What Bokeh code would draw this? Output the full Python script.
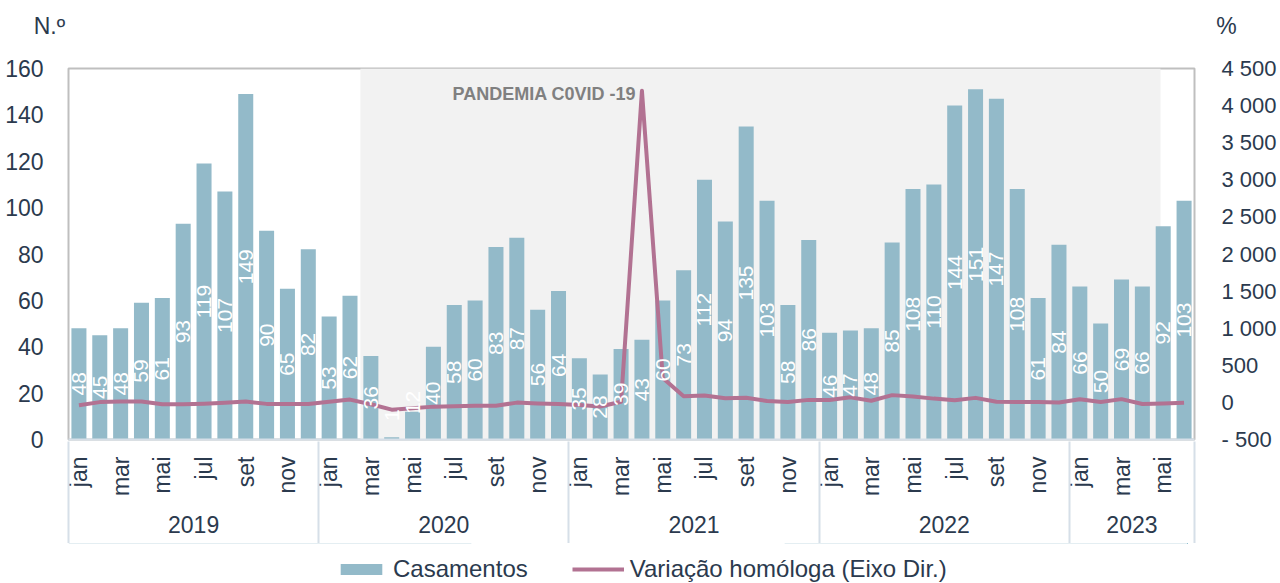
import math
from bokeh.plotting import figure
from bokeh.layouts import column
from bokeh.models import (Range1d, LinearAxis, FixedTicker, Legend, LegendItem,
                          Label, BoxAnnotation, ColumnDataSource)
from bokeh.embed import file_html
from bokeh.resources import INLINE
from bokeh.core.properties import value

# ---------------- data ----------------
years = ["2019", "2020", "2021", "2022", "2023"]
months = ["jan", "fev", "mar", "abr", "mai", "jun", "jul", "ago", "set", "out", "nov", "dez"]

casamentos_2019 = [48, 45, 48, 59, 61, 93, 119, 107, 149, 90, 65, 82]
casamentos_2020 = [53, 62, 36, 1, 12, 40, 58, 60, 83, 87, 56, 64]
casamentos_2021 = [35, 28, 39, 43, 60, 73, 112, 94, 135, 103, 58, 86]
casamentos_2022 = [46, 47, 48, 85, 108, 110, 144, 151, 147, 108, 61, 84]
casamentos_2023 = [66, 50, 69, 66, 92, 103]

variacao_2019 = [-38, 4, 13, 12, -25, -26, -18, -5, 12, -20, -21, -22]
variacao_2020 = [10, 38, -25, -98, -80, -57, -51, -44, -44, -3, -14, -22]
variacao_2021 = [-34, -55, 8, 4200, 330, 83, 93, 57, 63, 18, 4, 34]
variacao_2022 = [31, 68, 23, 98, 80, 51, 29, 61, 9, 5, 5, -2]
variacao_2023 = [43, 6, 44, -22, -15, -6]

left_ticks = [0, 20, 40, 60, 80, 100, 120, 140, 160]
right_ticks = [-500, 0, 500, 1000, 1500, 2000, 2500, 3000, 3500, 4000, 4500]

casamentos = casamentos_2019 + casamentos_2020 + casamentos_2021 + casamentos_2022 + casamentos_2023
variacao = variacao_2019 + variacao_2020 + variacao_2021 + variacao_2022 + variacao_2023
year_lengths = [len(casamentos_2019), len(casamentos_2020), len(casamentos_2021),
                len(casamentos_2022), len(casamentos_2023)]

# ---------------- styles ----------------
FONT = "Liberation Sans"
TXT = "#2b3a4e"
BAR = "#93bac9"
LINE = "#b27292"
SHADE = "#f2f2f2"
AXL = "#d6dfe8"
NB = "\u00a0"

n = len(casamentos)
xs = list(range(n))
src = ColumnDataSource(dict(
    x=xs,
    cas=casamentos,
    var=variacao,
    lbl=[str(v) for v in casamentos],
    ly=[v / 2 if v >= 20 else v / 2 + 10 for v in casamentos],
))

p = figure(frame_width=1126, frame_height=371,
           x_range=Range1d(-0.5, n - 0.5), y_range=Range1d(0, 160),
           output_backend="svg", toolbar_location=None,
           min_border_left=68, min_border_right=78, min_border_top=68, min_border_bottom=104,
           background_fill_color="white", border_fill_color="white",
           outline_line_color="#bfbfbf", outline_line_width=2)
p.extra_y_ranges = {"pct": Range1d(-500, 4500)}
p.extra_x_ranges = {"yr": Range1d(0, n), "top": Range1d(0, 1)}
p.grid.visible = False

xa = p.below[0]   # month axis (default)
ya = p.left[0]    # left axis (default)

# pandemic shading (mar 2020 -> mid may 2023)
start_idx = year_lengths[0] + 2
end_idx = sum(year_lengths[:4]) + 4
p.add_layout(BoxAnnotation(left=start_idx - 0.5, right=end_idx - 0.13,
                           fill_color=SHADE, fill_alpha=1.0, line_color=None, level="underlay"))

bars = p.vbar(x="x", top="cas", width=0.72, source=src, fill_color=BAR, line_color=None)
ln = p.line(x="x", y="var", source=src, y_range_name="pct", line_color=LINE,
            line_width=4, line_join="round")
p.text(x="x", y="ly", text="lbl", source=src, angle=math.pi / 2,
       text_align="center", text_baseline="middle", text_color="white",
       text_font=value(FONT), text_font_size="21px")

p.add_layout(Label(x=17.92, y=148.8, text="PANDEMIA C0VID -19", text_baseline="middle",
                   text_font=FONT, text_font_style="bold", text_font_size="18px",
                   text_color="#808080"))

# left axis
ya.ticker = FixedTicker(ticks=left_ticks)
ya.axis_line_color = None
ya.major_tick_line_color = None
ya.minor_tick_line_color = None
ya.major_label_standoff = 19
ya.major_label_text_font = FONT
ya.major_label_text_font_size = "23px"
ya.major_label_text_color = TXT

# right axis
def fmt(v):
    s = f"{abs(v):,}".replace(",", NB)
    return ("-" + NB + s) if v < 0 else s

ra = LinearAxis(y_range_name="pct", ticker=FixedTicker(ticks=right_ticks),
                major_label_overrides={t: fmt(t) for t in right_ticks})
ra.axis_line_color = None
ra.major_tick_line_color = None
ra.minor_tick_line_color = None
ra.major_label_standoff = 21
ra.major_label_text_font = FONT
ra.major_label_text_font_size = "22px"
ra.major_label_text_color = TXT
p.add_layout(ra, "right")

# top "axis" carrying the unit captions
ta = LinearAxis(x_range_name="top", ticker=FixedTicker(ticks=[0, 1]),
                major_label_overrides={0: "N.º" + NB * 6, 1: NB * 10 + "%"})
ta.axis_line_color = None
ta.major_tick_line_color = None
ta.minor_tick_line_color = None
ta.major_tick_out = 0
ta.major_label_standoff = 30
ta.major_label_text_font = FONT
ta.major_label_text_font_size = "23px"
ta.major_label_text_color = TXT
p.add_layout(ta, "above")

# month axis
month_ticks = [i for i in xs if i % 12 % 2 == 0]
xa.ticker = FixedTicker(ticks=month_ticks)
xa.major_label_overrides = {i: months[i % 12] for i in month_ticks}
xa.major_label_orientation = math.pi / 2
xa.major_label_standoff = 17
xa.major_label_text_font = FONT
xa.major_label_text_font_size = "23px"
xa.major_label_text_color = TXT
xa.major_tick_line_color = None
xa.minor_tick_line_color = None
xa.major_tick_out = 0
xa.major_tick_in = 0
xa.axis_line_color = AXL
xa.axis_line_width = 2

# year axis (its minor ticks are the year separators)
year_centers = []
bounds = [0]
acc = 0
for L in year_lengths:
    year_centers.append(acc + L / 2)
    acc += L
    bounds.append(acc)
yr = LinearAxis(x_range_name="yr", ticker=FixedTicker(ticks=year_centers, minor_ticks=bounds),
                major_label_overrides={c: y for c, y in zip(year_centers, years)})
yr.axis_line_color = None
yr.major_tick_line_color = None
yr.major_tick_out = 0
yr.major_tick_in = 0
yr.minor_tick_line_color = AXL
yr.minor_tick_line_width = 2
yr.minor_tick_in = 58
yr.minor_tick_out = 44
yr.major_label_standoff = -28
yr.major_label_text_font = FONT
yr.major_label_text_font_size = "23px"
yr.major_label_text_color = TXT
p.add_layout(yr, "below")

# legend strip below the chart (its glyphs lie outside its visible range)
leg = figure(width=1272, height=40, output_backend="svg", toolbar_location=None,
             min_border=0, x_range=Range1d(0, 1), y_range=Range1d(-1e6, -1e6 + 1),
             outline_line_color=None, background_fill_color="white",
             border_fill_color="white")
leg.axis.visible = False
leg.grid.visible = False
lb = leg.vbar(x="x", top="cas", width=0.72, source=src, fill_color=BAR, line_color=None)
ll = leg.line(x="x", y="var", source=src, line_color=LINE, line_width=4)
legend = Legend(items=[LegendItem(label="Casamentos", renderers=[lb]),
                       LegendItem(label="Variação homóloga (Eixo Dir.)", renderers=[ll])],
                orientation="horizontal", location=(267, 0),
                glyph_width=52, glyph_height=14, label_standoff=6, spacing=44,
                label_text_font=FONT, label_text_font_size="24px", label_text_color=TXT,
                border_line_color=None, background_fill_alpha=0, margin=0, padding=0)
leg.add_layout(legend, "center")

layout = column(p, leg, spacing=0)
open("out.html", "w").write(file_html(layout, INLINE))
